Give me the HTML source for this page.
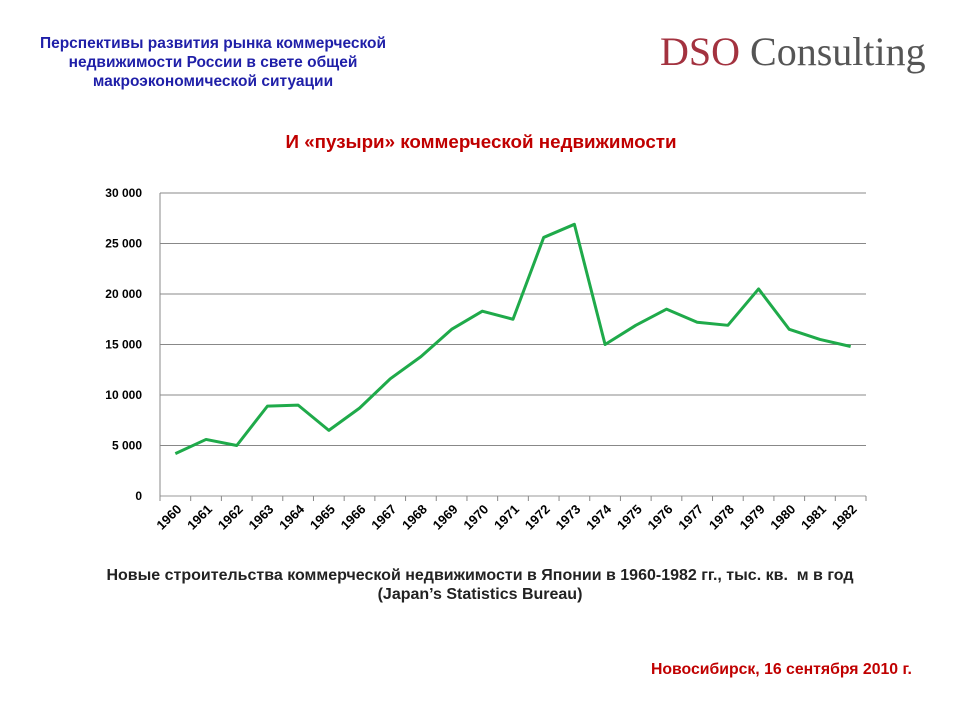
<!DOCTYPE html>
<html><head><meta charset="utf-8"><style>
body{margin:0;width:960px;height:720px;background:#fff;font-family:"Liberation Sans",sans-serif;overflow:hidden;position:relative}
.t{position:absolute;font-weight:bold}
</style></head><body>
<div class="t" style="left:13px;top:34px;width:400px;text-align:center;color:#1f1fa8;font-size:15.5px;line-height:19px">Перспективы развития рынка коммерческой недвижимости России в свете общей макроэкономической ситуации</div>
<div style="position:absolute;left:660px;top:28px;font-family:'Liberation Serif',serif;font-size:40px;color:#555"><span style="color:#a3323f">DSO</span> Consulting</div>
<div class="t" style="left:0;width:962px;top:131px;text-align:center;color:#c00000;font-size:18.8px">И «пузыри» коммерческой недвижимости</div>
<svg id="c" width="960" height="720" style="position:absolute;left:0;top:0"></svg>
<div class="t" style="left:0;width:960px;top:566px;text-align:center;color:#222;font-size:16px;line-height:19px">Новые строительства коммерческой недвижимости в Японии в 1960-1982 гг., тыс. кв.&nbsp; м в год<br>(Japan’s Statistics Bureau)</div>
<div class="t" style="left:651px;top:661px;color:#c00000;font-size:15.8px">Новосибирск, 16 сентября 2010 г.</div>
<script>
const years=["1960","1961","1962","1963","1964","1965","1966","1967","1968","1969","1970","1971","1972","1973","1974","1975","1976","1977","1978","1979","1980","1981","1982"];
const values=[4200,5600,5000,8900,9000,6500,8700,11600,13800,16500,18300,17500,25600,26900,15000,16900,18500,17200,16900,20500,16500,15500,14800];
const yTicks=[0,5000,10000,15000,20000,25000,30000];
const yTickLabels=["0","5 000","10 000","15 000","20 000","25 000","30 000"];
const NS="http://www.w3.org/2000/svg",svg=document.getElementById('c');
const L=160,R=866,T=193,B=496,band=(R-L)/years.length;
const x=i=>L+band*(i+0.5), y=v=>B-(v/30000)*(B-T);
function el(t,a){const e=document.createElementNS(NS,t);for(const k in a)e.setAttribute(k,a[k]);svg.appendChild(e);return e;}
yTicks.forEach((v,i)=>{
 const g=el('line',{x1:L,x2:R,y1:y(v),y2:y(v),stroke:v?'#888':'#999','stroke-width':1});
 
 const t=el('text',{x:L-18,y:y(v)+4,'text-anchor':'end','font-size':12,'font-weight':'bold','font-family':'Liberation Sans',fill:'#000'});
 t.textContent=yTickLabels[i];
 
});
const ax=el('line',{x1:L,x2:L,y1:T,y2:B,stroke:'#888'});

for(let i=0;i<=years.length;i++){const tk=el('line',{x1:L+band*i,x2:L+band*i,y1:B,y2:B+5,stroke:'#888'});
 }
years.forEach((yr,i)=>{
 const t=el('text',{x:x(i)+7,y:B+14,'text-anchor':'end','font-size':13,'font-weight':'bold','font-family':'Liberation Sans',transform:`rotate(-45 ${x(i)+7} ${B+14})`});
 t.textContent=yr;
 
});
const p=el('polyline',{points:values.map((v,i)=>x(i)+','+y(v)).join(' '),fill:'none',stroke:'#1faa4a','stroke-width':3,'stroke-linejoin':'round'});

</script>
</body></html>
